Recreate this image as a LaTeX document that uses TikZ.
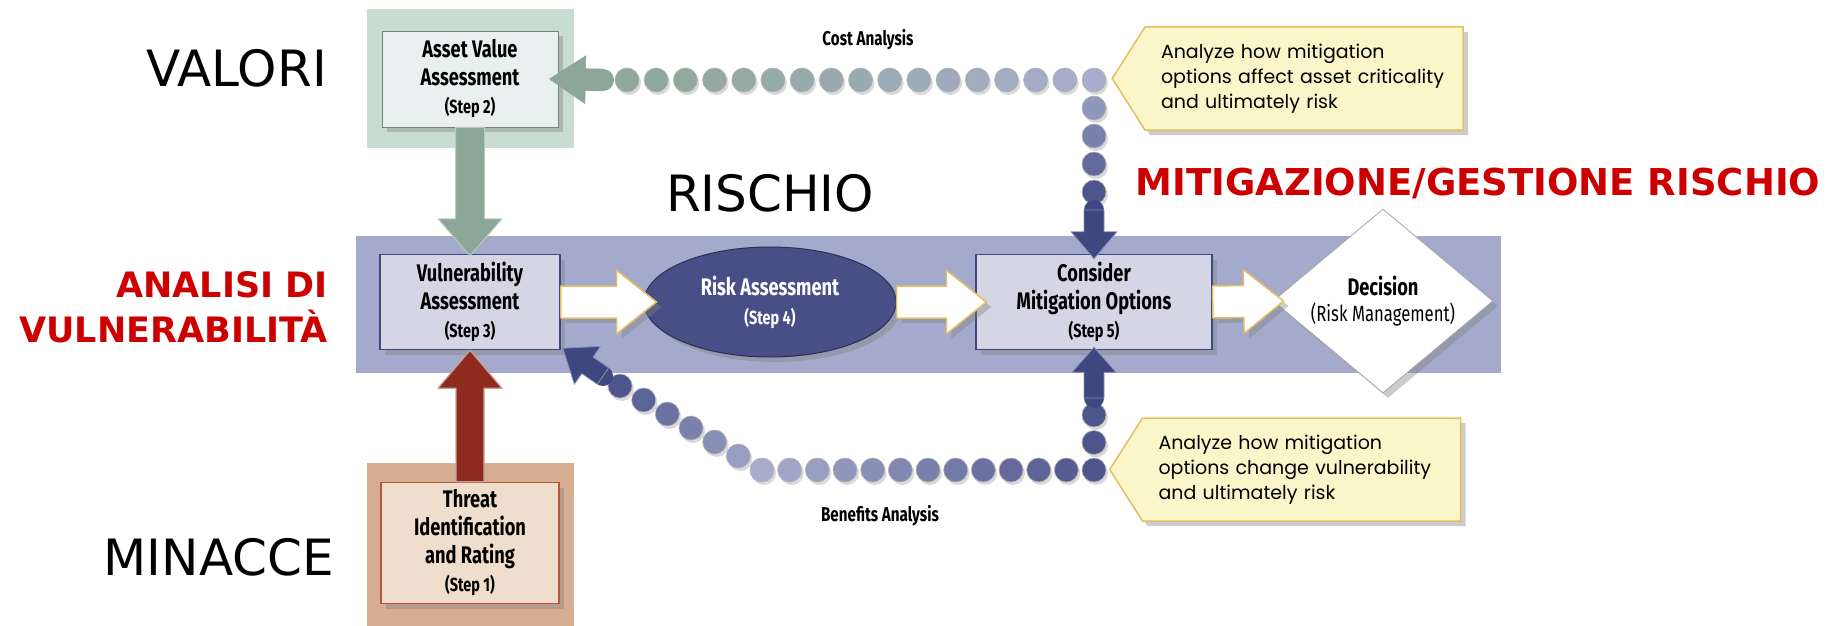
\documentclass[tikz,border=0pt]{standalone}
\usepackage{fontspec}
\setmainfont{DejaVu Sans}
\newfontfamily\boxfont[FakeStretch=0.76]{Fira Sans}
\newfontfamily\notefont{Poppins}
\usetikzlibrary{arrows.meta, positioning, shapes.geometric, shapes.symbols, calc, shadows}

\definecolor{band}{HTML}{A3AACB}
\definecolor{boxfill}{HTML}{D5D5E5}
\definecolor{navy}{HTML}{3E4780}
\definecolor{riskfill}{HTML}{474F86}
\definecolor{sage}{HTML}{8CA697}
\definecolor{sagebg}{HTML}{C8DCD1}
\definecolor{sagebox}{HTML}{E9F0F0}
\definecolor{brick}{HTML}{8E2B1F}
\definecolor{claybg}{HTML}{D7AE92}
\definecolor{claybox}{HTML}{EFDDCD}
\definecolor{clayline}{HTML}{B4573A}
\definecolor{notefill}{HTML}{FAF6CA}
\definecolor{gold}{HTML}{E6BE62}
\definecolor{alert}{HTML}{CC0000}
\definecolor{dotsage}{HTML}{8FA898}
\definecolor{dotpale}{HTML}{A7ADCC}
\definecolor{dotnavy}{HTML}{4D558C}
\newcommand{\steplabel}[1]{{\fontsize{19}{22}\selectfont #1}}

\tikzset{
  shaft/.store in=\shaftw, head/.store in=\headw, headlen/.store in=\headl,
  shaft=16pt, head=32pt, headlen=40pt,
  fatarrow/.style={line join=round, to path={
    let \p1=(\tikztostart), \p2=(\tikztotarget), \n1={atan2(\y2-\y1,\x2-\x1)} in
    ($(\p1)+(\n1+90:\shaftw)$) -- ($(\p2)+(\n1+180:\headl)+(\n1+90:\shaftw)$)
    -- ($(\p2)+(\n1+180:\headl)+(\n1+90:\headw)$) -- (\p2)
    -- ($(\p2)+(\n1+180:\headl)+(\n1-90:\headw)$)
    -- ($(\p2)+(\n1+180:\headl)+(\n1-90:\shaftw)$)
    -- ($(\p1)+(\n1-90:\shaftw)$) -- cycle}},
  softshadow/.style={drop shadow={shadow xshift=5pt, shadow yshift=-5pt, opacity=0.4}},
  stepbox/.style={draw=navy, line width=1.5pt, fill=boxfill, minimum width=180pt,
    minimum height=95pt, inner sep=0pt, align=center, softshadow,
    font=\boxfont\bfseries\fontsize{24}{28}\selectfont},
  whitearrow/.style={fatarrow, shaft=16pt, head=32pt, headlen=40pt, fill=white,
    draw=gold, line width=1.5pt, softshadow},
  pathdot/.style={draw=gray!60, line width=0.6pt,
    drop shadow={shadow xshift=2pt, shadow yshift=-3pt, opacity=0.3}},
  notebox/.style={signal, signal to=west, signal pointer angle=115, fill=notefill,
    draw=gold, line width=1.5pt, align=left, text width=286pt, inner xsep=16pt,
    minimum height=103pt, softshadow, font=\notefont\fontsize{19}{25}\selectfont},
  pathlabel/.style={font=\boxfont\bfseries\fontsize{20}{24}\selectfont, inner sep=0pt},
  bwlabel/.style={font=\fontsize{50}{56}\selectfont, inner sep=0pt},
  redlabel/.style={text=alert, font=\bfseries\fontsize{37}{45}\selectfont, inner sep=0pt}
}

\begin{document}
\begin{tikzpicture}[x=1pt, y=-1pt]
  \useasboundingbox (0,0) rectangle (1840,626);
  % Backdrops
  \node[fill=band, minimum width=1145pt, minimum height=137pt, inner sep=0pt] (band) at (928.5,304.5) {};
  \node[fill=sagebg, minimum width=207pt, minimum height=139pt, inner sep=0pt] (assetbg) at (470.5,78.5) {};
  \node[fill=claybg, minimum width=207pt, minimum height=163pt, inner sep=0pt] (threatbg) at (470.5,544.5) {};

  % Steps
  \node[stepbox, draw=sage!80!black, line width=0.8pt, fill=sagebox, minimum width=176pt, minimum height=96pt] (asset) at (470,79) {Asset Value\\Assessment\\\steplabel{(Step 2)}};
  \node[stepbox] (vuln) at (470,302) {Vulnerability\\Assessment\\\steplabel{(Step 3)}};
  \node[stepbox, draw=clayline, fill=claybox, minimum width=178pt, minimum height=121pt] (threat) at (470,543) {Threat\\Identification\\and Rating\\\steplabel{(Step 1)}};
  \node[ellipse, fill=riskfill, draw=riskfill!60!black, line width=1pt, minimum width=252pt, minimum height=110pt, inner sep=0pt, text=white, align=center, softshadow, font=\boxfont\bfseries\fontsize{24}{29}\selectfont] (risk) at (770,302) {Risk Assessment\\\steplabel{(Step 4)}};
  \node[stepbox, minimum width=236pt] (mitig) at (1094,302) {Consider\\Mitigation Options\\\steplabel{(Step 5)}};
  \node[diamond, aspect=1.19, fill=white, draw=gray!70, line width=0.8pt, minimum width=220pt, minimum height=184pt, inner sep=0pt, align=center, softshadow, font=\boxfont\bfseries\fontsize{24}{26}\selectfont] (dec) at (1383,301) {Decision\\{\mdseries\fontsize{22}{26}\selectfont(Risk Management)}};

  % Main flow
  \draw[fatarrow, shaft=14.5pt, head=32pt, headlen=37pt, fill=sage, draw=sage!60!white, line width=1pt] (asset.south) to ($(vuln.north)+(0,2)$);
  \draw[fatarrow, shaft=14pt, head=32pt, headlen=38pt, fill=brick, draw=brick!45!white, line width=1.2pt] (threat.north) to (vuln.south);
  \draw[whitearrow] (vuln.east) to ($(risk.west)+(13,0)$);
  \draw[whitearrow] (risk.east) to ($(mitig.west)+(11,0)$);
  \draw[whitearrow] (mitig.east) to ($(dec.west)+(11,0)$);

  % Cost analysis loop
  \coordinate (costcorner) at (1094,80);
  \coordinate (coststart) at (627,80);
  \coordinate (costdrop) at (1094,192);
  \coordinate (coststub) at (603,80);
  \coordinate (mitigstub) at (1094,210);
  \foreach \i in {0,...,16} {
    \pgfmathsetmacro\dotpos{\i/16}
    \pgfmathsetmacro\dotmix{100*\i/16}
    \filldraw[pathdot, fill=dotpale!\dotmix!dotsage] ($(coststart)!\dotpos!(costcorner)$) circle (12pt);
  }
  \foreach \i in {1,...,4} {
    \pgfmathsetmacro\dotpos{\i/4}
    \pgfmathsetmacro\dotmix{100*\i/4}
    \filldraw[pathdot, fill=dotnavy!\dotmix!dotpale] ($(costcorner)!\dotpos!(costdrop)$) circle (12pt);
  }
  \fill[sage] (coststub) circle (11pt);
  \draw[fatarrow, shaft=11pt, head=24pt, headlen=36pt, fill=sage, draw=sage] (coststub) to ($(asset.east)+(-9,0)$);
  \fill[navy] (mitigstub) circle (10pt);
  \draw[fatarrow, shaft=10pt, head=23pt, headlen=27pt, fill=navy, draw=navy!60!white, line width=0.8pt] (mitigstub) to ($(mitig.north)+(0,5)$);
  \node[pathlabel] (costlabel) at (868,40) {Cost Analysis};

  % Benefits analysis loop
  \coordinate (benefitcorner) at (1094,470);
  \coordinate (benefitbend) at (762,470);
  \coordinate (benefitdiag) at (620,386);
  \coordinate (benefitrise) at (1094,415);
  \coordinate (benefitstub) at (603,376);
  \coordinate (mitigbase) at (1094,398);
  \foreach \i in {0,...,12} {
    \pgfmathsetmacro\dotpos{\i/12}
    \pgfmathsetmacro\dotmix{100*\i/12}
    \filldraw[pathdot, fill=dotpale!\dotmix!dotnavy] ($(benefitcorner)!\dotpos!(benefitbend)$) circle (12pt);
  }
  \foreach \i in {1,...,2} {
    \pgfmathsetmacro\dotpos{\i/2}
    \filldraw[pathdot, fill=dotnavy] ($(benefitcorner)!\dotpos!(benefitrise)$) circle (12pt);
  }
  \foreach \i in {1,...,6} {
    \pgfmathsetmacro\dotpos{\i/6}
    \pgfmathsetmacro\dotmix{100*\i/6}
    \filldraw[pathdot, fill=dotnavy!\dotmix!dotpale] ($(benefitbend)!\dotpos!(benefitdiag)$) circle (12pt);
  }
  \fill[navy] (mitigbase) circle (10pt);
  \draw[fatarrow, shaft=10pt, head=22pt, headlen=25pt, fill=navy, draw=navy!60!white, line width=0.8pt] (mitigbase) to ($(mitig.south)+(0,-3)$);
  \fill[navy] (benefitstub) circle (10pt);
  \draw[fatarrow, shaft=10pt, head=23pt, headlen=30pt, fill=navy, draw=navy!60!white, line width=0.8pt] (benefitstub) to ($(vuln.south east)+(2,-2)$);
  \node[pathlabel] (benefitlabel) at (880,516) {Benefits Analysis};

  % Notes
  \node[notebox] (costnote) at (1304,78.5) {Analyze how mitigation\\options affect asset criticality\\and ultimately risk};
  \node[notebox] (benefitnote) at (1301.5,469.5) {Analyze how mitigation\\options change vulnerability\\and ultimately risk};

  % Labels
  \node[bwlabel, anchor=east] (valori) at (327,68) {VALORI};
  \node[bwlabel] (rischio) at (770,193) {RISCHIO};
  \node[bwlabel, anchor=east] (minacce) at (334,557) {MINACCE};
  \node[redlabel, anchor=east, align=right, font=\bfseries\fontsize{35}{45}\selectfont] (analisi) at (328,307) {ANALISI DI\\VULNERABILITÀ};
  \node[redlabel] (gestione) at (1478,183) {MITIGAZIONE/GESTIONE RISCHIO};
\end{tikzpicture}
\end{document}
